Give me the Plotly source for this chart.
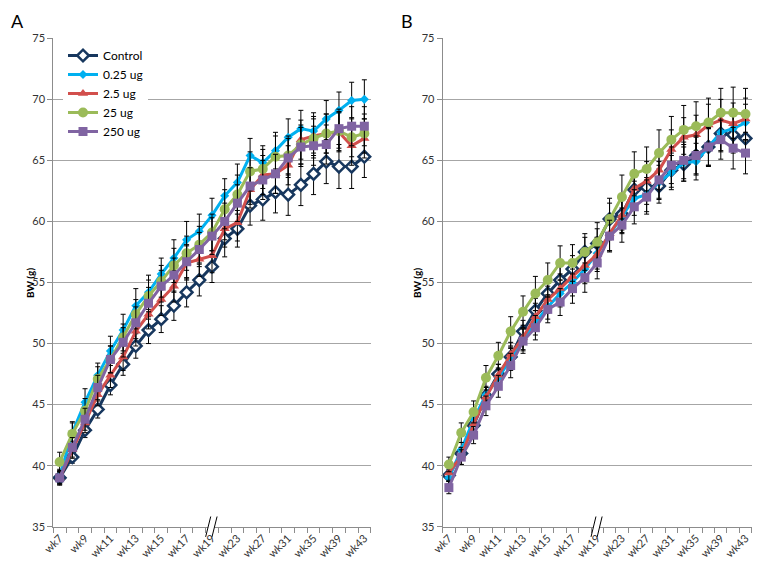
import plotly.graph_objects as go
from plotly.subplots import make_subplots

weeks = ['wk7', 'wk8', 'wk9', 'wk10', 'wk11', 'wk12', 'wk13', 'wk14', 'wk15', 'wk16',
         'wk17', 'wk18', 'wk19', 'wk21', 'wk23', 'wk25', 'wk27', 'wk29', 'wk31', 'wk33',
         'wk35', 'wk37', 'wk39', 'wk41', 'wk43']
tick_labels = ['wk7', 'wk9', 'wk11', 'wk13', 'wk15', 'wk17', 'wk19',
               'wk23', 'wk27', 'wk31', 'wk35', 'wk39', 'wk43']
series_names = ['Control', '0.25 ug', '2.5 ug', '25 ug', '250 ug']

# Panel A means
a_control = [39.0, 40.7, 42.9, 44.6, 46.6, 48.3, 49.8, 51.1, 52.0, 53.1, 54.2, 55.2, 56.3,
             58.6, 59.4, 61.3, 61.8, 62.4, 62.2, 63.0, 63.9, 64.9, 64.5, 64.5, 65.3]
a_025 = [39.1, 42.7, 45.2, 47.4, 49.4, 51.1, 53.1, 54.2, 55.7, 57.0, 58.5, 59.2, 60.5,
         62.1, 63.2, 65.4, 64.8, 65.8, 66.9, 67.6, 67.4, 68.4, 69.1, 69.9, 70.0]
a_25 = [39.0, 41.3, 43.5, 45.8, 47.4, 48.9, 51.0, 52.4, 53.6, 54.7, 56.6, 56.9, 57.2,
        59.4, 59.9, 62.6, 63.8, 63.9, 64.6, 66.7, 67.0, 67.2, 67.3, 66.2, 66.8]
a_250 = [40.3, 42.6, 44.5, 47.1, 48.7, 50.5, 52.4, 53.9, 55.1, 56.4, 57.4, 58.1, 59.1,
         61.0, 62.2, 64.1, 64.3, 65.3, 65.4, 66.3, 66.8, 67.2, 67.4, 66.9, 67.2]
a_2500 = [39.0, 41.5, 43.8, 46.4, 48.7, 50.1, 51.7, 53.3, 54.7, 55.6, 56.7, 57.7, 58.8,
          60.0, 61.5, 62.9, 63.4, 63.9, 65.2, 66.1, 66.2, 66.3, 67.6, 67.8, 67.8]

# Panel A error bars
a_control_err = [0.5, 0.5, 0.6, 0.7, 0.8, 0.9, 1.0, 1.1, 1.1, 1.2, 1.2, 1.3, 1.3,
                 1.5, 1.5, 1.6, 1.7, 1.7, 1.7, 1.7, 1.7, 1.8, 1.8, 1.8, 1.7]
a_025_err = [0.6, 0.9, 1.1, 1.0, 1.2, 1.3, 1.4, 1.4, 1.3, 1.5, 1.5, 1.4, 1.4,
             1.4, 1.5, 1.4, 1.4, 1.5, 1.5, 1.5, 1.5, 1.5, 1.5, 1.5, 1.6]
a_25_err = [0.5, 0.7, 0.8, 0.9, 1.0, 1.1, 1.2, 1.2, 1.3, 1.3, 1.4, 1.4, 1.4,
            1.5, 1.5, 1.5, 1.6, 1.6, 1.6, 1.6, 1.6, 1.6, 1.6, 1.6, 1.6]
a_250_err = [0.8, 0.9, 1.0, 1.0, 1.1, 1.1, 1.2, 1.3, 1.3, 1.4, 1.4, 1.5, 1.5,
             1.6, 1.6, 1.6, 1.6, 1.7, 1.6, 1.6, 1.6, 1.6, 1.6, 1.6, 1.6]
a_2500_err = [0.6, 0.8, 0.9, 1.0, 1.1, 1.2, 1.3, 1.3, 1.3, 1.4, 1.4, 1.4, 1.5,
              1.5, 1.5, 1.5, 1.6, 1.6, 1.6, 1.6, 1.6, 1.6, 1.6, 1.6, 1.6]

# Panel B means
b_control = [39.2, 41.0, 43.3, 45.7, 47.5, 48.9, 51.0, 52.7, 54.1, 55.2, 56.1, 57.5, 58.2,
             60.2, 60.6, 62.6, 62.8, 62.9, 64.2, 64.7, 65.4, 66.1, 67.2, 67.1, 66.8]
b_025 = [39.0, 41.3, 43.8, 45.8, 47.2, 48.7, 50.3, 51.7, 53.0, 54.1, 55.0, 56.1, 57.4,
         58.9, 60.4, 61.9, 62.2, 63.2, 64.0, 64.8, 64.9, 66.1, 67.3, 67.6, 68.1]
b_25 = [39.4, 40.8, 43.4, 45.6, 47.4, 49.1, 50.5, 52.2, 53.6, 54.5, 55.5, 56.4, 57.3,
        59.0, 60.5, 62.7, 63.3, 64.2, 65.9, 66.9, 67.1, 67.9, 68.3, 68.0, 68.4]
b_250 = [40.1, 42.7, 44.4, 47.2, 49.0, 51.0, 52.6, 54.1, 55.2, 56.6, 56.6, 57.5, 58.3,
         60.2, 62.0, 63.9, 64.3, 65.6, 66.7, 67.5, 67.8, 68.1, 68.9, 68.9, 68.8]
b_2500 = [38.2, 40.7, 42.5, 44.9, 46.5, 48.2, 50.2, 51.3, 52.8, 53.4, 54.5, 55.4, 56.6,
          58.8, 59.7, 61.2, 62.0, 63.4, 64.6, 65.0, 65.4, 66.1, 66.7, 66.0, 65.6]

# Panel B error bars
b_control_err = [0.5, 0.5, 0.6, 0.7, 0.8, 0.8, 0.9, 1.0, 1.0, 1.1, 1.1, 1.2, 1.2,
                 1.3, 1.3, 1.3, 1.4, 1.4, 1.4, 1.4, 1.5, 1.5, 1.5, 1.5, 1.4]
b_025_err = [0.5, 0.6, 0.6, 0.7, 0.8, 0.9, 0.9, 1.0, 1.0, 1.1, 1.1, 1.2, 1.3,
             1.3, 1.3, 1.4, 1.4, 1.4, 1.4, 1.5, 1.5, 1.5, 1.5, 1.5, 1.5]
b_25_err = [0.6, 0.7, 0.8, 0.8, 0.9, 1.0, 1.0, 1.1, 1.1, 1.2, 1.2, 1.3, 1.4,
            1.4, 1.5, 1.5, 1.6, 1.6, 1.6, 1.6, 1.6, 1.7, 1.7, 1.7, 1.7]
b_250_err = [0.6, 0.8, 0.9, 1.0, 1.1, 1.2, 1.3, 1.4, 1.4, 1.4, 1.5, 1.5, 1.6,
             1.7, 1.8, 1.8, 1.8, 1.9, 1.9, 2.0, 2.0, 2.0, 2.0, 2.1, 2.1]
b_2500_err = [0.5, 0.6, 0.7, 0.8, 0.9, 1.0, 1.0, 1.0, 1.1, 1.1, 1.2, 1.2, 1.3,
              1.3, 1.4, 1.4, 1.4, 1.5, 1.5, 1.5, 1.6, 1.6, 1.6, 1.7, 1.7]

colors = ['#17375E', '#00B0F0', '#D24F4C', '#9BBB59', '#8064A2']
symbols = ['diamond', 'diamond', 'triangle-up', 'circle', 'square']
msizes = [9, 7, 9, 10, 9]
mfill = ['white', '#00B0F0', '#D24F4C', '#9BBB59', '#8064A2']

panels = [
    ([a_control, a_025, a_25, a_250, a_2500],
     [a_control_err, a_025_err, a_25_err, a_250_err, a_2500_err]),
    ([b_control, b_025, b_25, b_250, b_2500],
     [b_control_err, b_025_err, b_25_err, b_250_err, b_2500_err]),
]

W, H = 761, 566
OFF = 8  # page body margin offset of the figure div
FONT = 'Lato, Open Sans, sans-serif'


def px(x):
    return (x - OFF) / W


def py(y):
    return 1 - (y - OFF) / H


xpos = list(range(len(weeks)))

fig = make_subplots(rows=1, cols=2)
for p, (means, errs) in enumerate(panels):
    for k in range(len(series_names)):
        fig.add_trace(go.Scatter(
            x=xpos, y=means[k], name=series_names[k], mode='lines+markers',
            line=dict(color=colors[k], width=3),
            marker=dict(symbol=symbols[k], size=msizes[k], color=mfill[k],
                        line=dict(color=colors[k], width=2.5 if k == 0 else 0)),
            error_y=dict(type='data', array=errs[k], visible=True, color='black',
                         thickness=1, width=2.5),
            showlegend=(p == 0), cliponaxis=False,
        ), row=1, col=p + 1)

tickvals = [weeks.index(t) for t in tick_labels]
ytop, ybot = py(38.3), py(526.7)
doms = [[px(53.3), px(370.7)], [px(442.7), px(751.7)]]
for p in range(2):
    xa = 'xaxis' if p == 0 else 'xaxis2'
    ya = 'yaxis' if p == 0 else 'yaxis2'
    fig.layout[xa].update(
        domain=doms[p], range=[-0.5, len(weeks) - 0.5], tickvals=tickvals,
        ticktext=tick_labels, tickangle=-45, ticks='', showgrid=False,
        zeroline=False, showline=True, linecolor='#8C8C8C', linewidth=1,
        automargin=False,
        tickfont=dict(family=FONT, size=11, color='#333333'),
        minor=dict(tickvals=[i - 0.5 for i in range(len(weeks) + 1)],
                   ticks='outside', ticklen=5, tickcolor='#8C8C8C', showgrid=False),
    )
    fig.layout[ya].update(
        domain=[ybot, ytop], range=[35, 75], dtick=5, tick0=35,
        ticks='outside', ticklen=5, tickcolor='#8C8C8C', showgrid=True,
        gridcolor='#A6A6A6', gridwidth=1, zeroline=False, showline=True,
        linecolor='#8C8C8C', linewidth=1, automargin=False,
        tickfont=dict(family=FONT, size=11, color='#333333'),
    )

annotations = []
shapes = []
for p, (letter, lx, tx) in enumerate([('A', 9, 30), ('B', 399, 417)]):
    annotations.append(dict(text=letter, x=px(lx), y=1.0, xref='paper', yref='paper',
                            showarrow=False, font=dict(family=FONT, size=18, color='black'),
                            xanchor='left', yanchor='top'))
    annotations.append(dict(text='<b>BW (g)</b>', x=px(tx), y=py(283), xref='paper',
                            yref='paper', showarrow=False, textangle=-90,
                            font=dict(family=FONT, size=10, color='black'),
                            xanchor='center', yanchor='middle'))
    xr = 'x' if p == 0 else 'x2'
    bx = weeks.index('wk19') - 0.05
    shapes.append(dict(type='rect', xref=xr, yref='paper', x0=bx - 0.25, x1=bx + 0.25,
                       y0=ybot - 0.006, y1=ybot + 0.006, fillcolor='white',
                       line=dict(width=0), layer='above'))
    for dx in (-0.25, 0.25):
        shapes.append(dict(type='line', xref=xr, yref='paper',
                           x0=bx + dx - 0.2, x1=bx + dx + 0.2,
                           y0=ybot - 0.018, y1=ybot + 0.018,
                           line=dict(color='black', width=1), layer='above'))

fig.update_layout(
    width=W, height=H, margin=dict(l=0, r=0, t=0, b=0, autoexpand=False),
    paper_bgcolor='white', plot_bgcolor='white',
    font=dict(family=FONT, color='black'),
    annotations=annotations, shapes=shapes,
    legend=dict(x=px(63), y=py(41), xanchor='left', yanchor='top',
                bgcolor='white', font=dict(family=FONT, size=12, color='black'),
                itemwidth=30, tracegroupgap=0),
)

fig.write_html('out.html')
